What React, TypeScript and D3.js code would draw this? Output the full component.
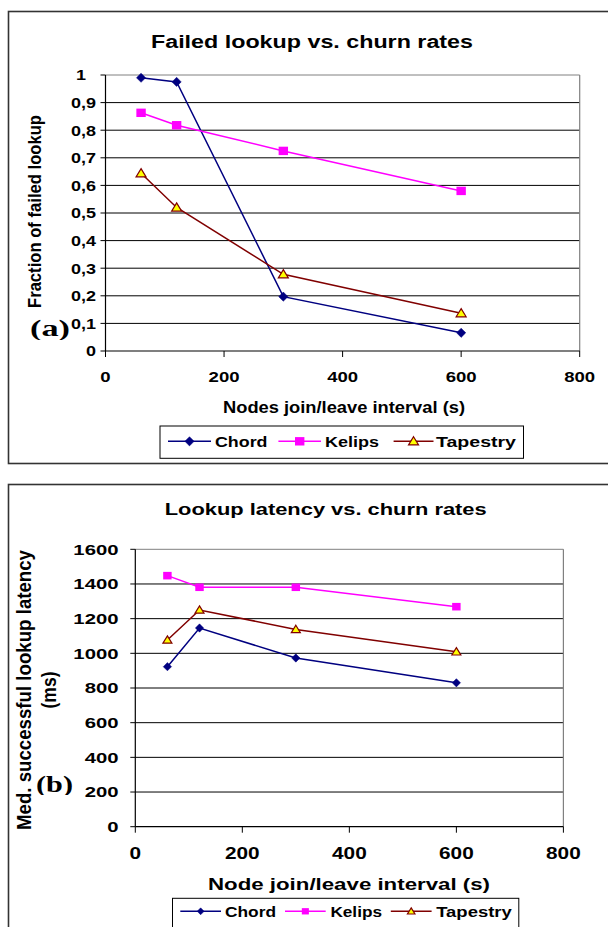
import React from "react";
import * as d3 from "d3";

// ---------- data ----------
const intervals = [60, 120, 300, 600];
const seriesNames = ["Chord", "Kelips", "Tapestry"];

const chordFail = [0.99, 0.975, 0.197, 0.066];
const kelipsFail = [0.863, 0.818, 0.725, 0.58];
const tapestryFail = [0.644, 0.52, 0.278, 0.137];

const chordLat = [923, 1146, 973, 830];
const kelipsLat = [1448, 1381, 1381, 1269];
const tapestryLat = [1077, 1250, 1138, 1009];

const xTicks = [0, 200, 400, 600, 800];
const failTicks = [0, 0.1, 0.2, 0.3, 0.4, 0.5, 0.6, 0.7, 0.8, 0.9, 1];
const latTicks = [0, 200, 400, 600, 800, 1000, 1200, 1400, 1600];

const COLORS = ["#000080", "#FF00FF", "#800000"];
const FONT = "'Liberation Sans', Arial, sans-serif";
const SERIF = "'Liberation Serif', 'Times New Roman', serif";

const fmtFail = (v: number) =>
  v === 0 || v === 1 ? String(v) : v.toFixed(1).replace(".", ",");
const fmtInt = (v: number) => String(v);

function Marker({ kind, x, y, s }: { kind: number; x: number; y: number; s: number }) {
  if (kind === 0) {
    const h = 4.6 * s;
    return (
      <polygon
        points={`${x},${y - h} ${x + h},${y} ${x},${y + h} ${x - h},${y}`}
        fill="#000080"
        stroke="#000080"
        strokeWidth={0.5}
      />
    );
  }
  if (kind === 1) {
    const w = 9.4 * s,
      h = 8.4 * s;
    return <rect x={x - w / 2} y={y - h / 2} width={w} height={h} fill="#FF00FF" />;
  }
  const w = 5 * s;
  return (
    <polygon
      points={`${x},${y - 4.6 * s} ${x + w},${y + 3.6 * s} ${x - w},${y + 3.6 * s}`}
      fill="#FFFF00"
      stroke="#800000"
      strokeWidth={1.2}
    />
  );
}

type Cfg = {
  id: string;
  frame: { x: number; y: number; h: number };
  plot: { x0: number; x1: number; yTop: number; yBot: number };
  yMax: number;
  yTicks: number[];
  yFmt: (v: number) => string;
  series: number[][];
  title: { text: string; x: number; y: number; size: number; len: number };
  xTitle: { text: string; x: number; y: number; size: number; len: number };
  yTitle: { lines: string[]; xs: number[]; cy: number; size: number; lens: number[]; sy: number };
  yLabel: { x: number; size: number; sx: number };
  xLabel: { y: number; size: number; sx: number };
  legend: {
    box: [number, number, number, number];
    items: { l0: number; l1: number; tx: number; tw: number }[];
    base: number;
    size: number;
    ms: number;
  };
  tag: { text: string; x: number; y: number; len: number; size: number; clipY: number };
  ms: number;
};

function Chart({ c }: { c: Cfg }) {
  const x = d3.scaleLinear().domain([0, 800]).range([c.plot.x0, c.plot.x1]);
  const y = d3.scaleLinear().domain([0, c.yMax]).range([c.plot.yBot, c.plot.yTop]);
  const line = d3
    .line<[number, number]>()
    .x((d) => x(d[0]))
    .y((d) => y(d[1]));

  return (
    <g>
      <rect
        x={c.frame.x}
        y={c.frame.y}
        width={640}
        height={c.frame.h}
        fill="#fff"
        stroke="#333"
        strokeWidth={1.6}
      />
      {/* gridlines */}
      {c.yTicks.map((t) =>
        t === 0 ? null : (
          <line
            key={"g" + t}
            x1={c.plot.x0}
            x2={c.plot.x1}
            y1={y(t)}
            y2={y(t)}
            stroke={t === c.yMax ? "#808080" : "#000"}
            strokeWidth={1}
          />
        )
      )}
      {/* right border */}
      <line x1={c.plot.x1} x2={c.plot.x1} y1={c.plot.yTop} y2={c.plot.yBot} stroke="#808080" strokeWidth={1.2} />
      {/* axes */}
      <line x1={c.plot.x0} x2={c.plot.x0} y1={c.plot.yTop} y2={c.plot.yBot} stroke="#000" strokeWidth={1.2} />
      <line x1={c.plot.x0} x2={c.plot.x1} y1={c.plot.yBot} y2={c.plot.yBot} stroke="#000" strokeWidth={1.2} />
      {c.yTicks.map((t) => (
        <g key={"yt" + t}>
          <line x1={c.plot.x0 - 5} x2={c.plot.x0} y1={y(t)} y2={y(t)} stroke="#000" strokeWidth={1} />
          <text
            transform={`translate(${t === 1 && c.yMax === 1 ? c.yLabel.x - 10 : c.yLabel.x},${y(t) + c.yLabel.size * 0.36}) scale(${c.yLabel.sx},1)`}
            textAnchor="end"
            fontFamily={FONT}
            fontWeight="bold"
            fontSize={c.yLabel.size}
          >
            {c.yFmt(t)}
          </text>
        </g>
      ))}
      {xTicks.map((t) => (
        <g key={"xt" + t}>
          <line x1={x(t)} x2={x(t)} y1={c.plot.yBot} y2={c.plot.yBot + 6} stroke="#000" strokeWidth={1} />
          <text
            transform={`translate(${x(t)},${c.xLabel.y}) scale(${c.xLabel.sx},1)`}
            textAnchor="middle"
            fontFamily={FONT}
            fontWeight="bold"
            fontSize={c.xLabel.size}
          >
            {fmtInt(t)}
          </text>
        </g>
      ))}
      {/* series */}
      {c.series.map((vals, si) => {
        const pts = intervals.map((iv, i) => [iv, vals[i]] as [number, number]);
        return (
          <g key={"s" + si}>
            <path d={line(pts) || ""} fill="none" stroke={COLORS[si]} strokeWidth={1.5} />
            {pts.map((p, i) => (
              <Marker key={i} kind={si} x={x(p[0])} y={y(p[1])} s={c.ms} />
            ))}
          </g>
        );
      })}
      {/* titles */}
      <text
        x={c.title.x}
        y={c.title.y}
        textAnchor="middle"
        fontFamily={FONT}
        fontWeight="bold"
        fontSize={c.title.size}
        textLength={c.title.len}
        lengthAdjust="spacingAndGlyphs"
      >
        {c.title.text}
      </text>
      <text
        x={c.xTitle.x}
        y={c.xTitle.y}
        textAnchor="middle"
        fontFamily={FONT}
        fontWeight="bold"
        fontSize={c.xTitle.size}
        textLength={c.xTitle.len}
        lengthAdjust="spacingAndGlyphs"
      >
        {c.xTitle.text}
      </text>
      {c.yTitle.lines.map((ln, i) => (
        <text
          key={"yl" + i}
          transform={`translate(${c.yTitle.xs[i]},${c.yTitle.cy}) rotate(-90) scale(1,${c.yTitle.sy})`}
          textAnchor="middle"
          fontFamily={FONT}
          fontWeight="bold"
          fontSize={c.yTitle.size}
          textLength={c.yTitle.lens[i]}
          lengthAdjust="spacingAndGlyphs"
        >
          {ln}
        </text>
      ))}
      {/* legend */}
      <rect
        x={c.legend.box[0]}
        y={c.legend.box[1]}
        width={c.legend.box[2]}
        height={c.legend.box[3]}
        fill="#fff"
        stroke="#000"
        strokeWidth={1}
      />
      {c.legend.items.map((it, i) => {
        const ly = c.legend.base - c.legend.size * 0.36;
        return (
          <g key={"lg" + i}>
            <line x1={it.l0} x2={it.l1} y1={ly} y2={ly} stroke={COLORS[i]} strokeWidth={1.5} />
            <Marker kind={i} x={(it.l0 + it.l1) / 2} y={ly} s={c.legend.ms} />
            <text
              x={it.tx}
              y={c.legend.base}
              fontFamily={FONT}
              fontWeight="bold"
              fontSize={c.legend.size}
              textLength={it.tw}
              lengthAdjust="spacingAndGlyphs"
            >
              {seriesNames[i]}
            </text>
          </g>
        );
      })}
      {/* panel tag */}
      <clipPath id={"clip" + c.id}>
        <rect x={0} y={c.tag.y - 40} width={200} height={c.tag.clipY - (c.tag.y - 40)} />
      </clipPath>
      <text
        x={c.tag.x}
        y={c.tag.y}
        fontFamily={SERIF}
        fontWeight="bold"
        fontSize={c.tag.size}
        textLength={c.tag.len}
        lengthAdjust="spacingAndGlyphs"
        clipPath={`url(#clip${c.id})`}
      >
        {c.tag.text}
      </text>
    </g>
  );
}

const topCfg: Cfg = {
  id: "a",
  frame: { x: 8.5, y: 11.5, h: 452 },
  plot: { x0: 105.5, x1: 579.7, yTop: 75, yBot: 351 },
  yMax: 1,
  yTicks: failTicks,
  yFmt: fmtFail,
  series: [chordFail, kelipsFail, tapestryFail],
  title: { text: "Failed lookup vs. churn rates", x: 312, y: 48, size: 18, len: 322 },
  xTitle: { text: "Nodes join/leave interval (s)", x: 344, y: 413, size: 16, len: 242 },
  yTitle: { lines: ["Fraction of failed lookup"], xs: [41], cy: 211.5, size: 15, lens: [193], sy: 1.2 },
  yLabel: { x: 96, size: 15, sx: 1.2 },
  xLabel: { y: 381.5, size: 14.5, sx: 1.28 },
  legend: {
    box: [160, 426, 363.5, 32.3],
    items: [
      { l0: 168, l1: 211, tx: 215, tw: 52.5 },
      { l0: 278.4, l1: 321, tx: 325, tw: 54 },
      { l0: 393.6, l1: 433.5, tx: 436, tw: 80 },
    ],
    base: 446.7,
    size: 15,
    ms: 1,
  },
  tag: { text: "(a)", x: 30, y: 336, len: 40, size: 23, clipY: 340 },
  ms: 1,
};

const botCfg: Cfg = {
  id: "b",
  frame: { x: 8.5, y: 484.5, h: 500 },
  plot: { x0: 135.3, x1: 563.4, yTop: 549.3, yBot: 826.7 },
  yMax: 1600,
  yTicks: latTicks,
  yFmt: fmtInt,
  series: [chordLat, kelipsLat, tapestryLat],
  title: { text: "Lookup latency vs. churn rates", x: 325.7, y: 515, size: 17, len: 322 },
  xTitle: { text: "Node join/leave interval (s)", x: 349, y: 890, size: 17, len: 282 },
  yTitle: {
    lines: ["Med. successful lookup latency", "(ms)"],
    xs: [31, 56],
    cy: 690,
    size: 15,
    lens: [280, 37],
    sy: 1.3,
  },
  yLabel: { x: 118.5, size: 14.5, sx: 1.4 },
  xLabel: { y: 859, size: 16, sx: 1.3 },
  legend: {
    box: [172.5, 898.3, 346.3, 40],
    items: [
      { l0: 180.3, l1: 221, tx: 225, tw: 51 },
      { l0: 285, l1: 325.7, tx: 330.4, tw: 51.6 },
      { l0: 390.8, l1: 431.6, tx: 436.2, tw: 75.6 },
    ],
    base: 916.7,
    size: 15,
    ms: 0.75,
  },
  tag: { text: "(b)", x: 36, y: 792, len: 37, size: 23, clipY: 795 },
  ms: 0.9,
};

export default function App() {
  return (
    <svg
      width={608}
      height={927}
      style={{ position: "absolute", left: 0, top: 0, display: "block", background: "#fff" }}
    >
      <rect x={0} y={0} width={608} height={927} fill="#fff" />
      <Chart c={topCfg} />
      <Chart c={botCfg} />
    </svg>
  );
}
